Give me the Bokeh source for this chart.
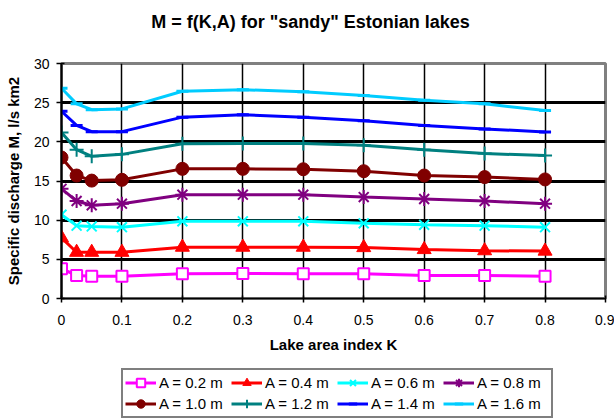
from bokeh.plotting import figure
from bokeh.layouts import column
from bokeh.models import FixedTicker, Legend, LegendItem, CustomJSTickFormatter, Label
from bokeh.embed import file_html
from bokeh.resources import INLINE

# ---- data ----
K = [0, 0.025, 0.05, 0.1, 0.2, 0.3, 0.4, 0.5, 0.6, 0.7, 0.8]

M_A02 = [3.8, 2.95, 2.85, 2.85, 3.15, 3.2, 3.15, 3.15, 2.95, 2.95, 2.85]
M_A04 = [7.75, 5.9, 5.9, 5.9, 6.55, 6.55, 6.55, 6.5, 6.25, 6.1, 6.05]
M_A06 = [10.7, 9.3, 9.2, 9.1, 9.85, 9.85, 9.85, 9.6, 9.4, 9.3, 9.1]
M_A08 = [14.0, 12.45, 11.9, 12.1, 13.25, 13.25, 13.25, 12.95, 12.7, 12.45, 12.1]
M_A10 = [18.0, 15.7, 15.05, 15.15, 16.55, 16.55, 16.5, 16.25, 15.7, 15.5, 15.2]
M_A12 = [21.2, 19.0, 18.15, 18.4, 19.75, 19.8, 19.8, 19.55, 19.0, 18.5, 18.25]
M_A14 = [23.9, 22.1, 21.3, 21.3, 23.15, 23.45, 23.15, 22.7, 22.1, 21.65, 21.25]
M_A16 = [26.85, 24.85, 24.1, 24.2, 26.45, 26.65, 26.4, 25.9, 25.3, 24.85, 24.0]

SERIES_LABELS = ["A = 0.2 m", "A = 0.4 m", "A = 0.6 m", "A = 0.8 m",
                 "A = 1.0 m", "A = 1.2 m", "A = 1.4 m", "A = 1.6 m"]

X_TICKS = [0.0, 0.1, 0.2, 0.3, 0.4, 0.5, 0.6, 0.7, 0.8, 0.9]
X_TICK_LABELS = ["0", "0.1", "0.2", "0.3", "0.4", "0.5", "0.6", "0.7", "0.8", "0.9"]
Y_TICKS = [0, 5, 10, 15, 20, 25, 30]

TITLE = 'M = f(K,A) for "sandy" Estonian lakes'
X_LABEL = "Lake area index K"
Y_LABEL = "Specific discharge M, l/s km2"

# ---- styles ----
series = [M_A02, M_A04, M_A06, M_A08, M_A10, M_A12, M_A14, M_A16]
colors = ["#FF00FF", "#FF0000", "#00FFFF", "#800080",
          "#800000", "#008080", "#0000FF", "#00CCFF"]
markers = ["square", "triangle", "x", "asterisk", "circle", "cross", "dash", "dash"]
msizes = [11, 14, 14, 14, 13, 14, 12, 12]
mfill = ["white", "#FF0000", None, None, "#800000", None, "#0000FF", "#00CCFF"]
mlw = [2, 1, 2, 2, 1, 2, 3, 3]

FONT = "Liberation Sans"
TITLE_H = 50
LEGEND_H = 60
W, H = 614, 418
FRAME_LEFT = 61  # the column layout aligns the strips' frames with the chart's frame


def strip(height, xr=(0, 1), yr=(0, 1)):
    f = figure(width=W, height=height, x_range=xr, y_range=yr,
               x_axis_type=None, y_axis_type=None,
               output_backend="svg", toolbar_location=None,
               min_border_left=0, min_border_right=0, min_border_top=0,
               min_border_bottom=0, background_fill_color="white",
               border_fill_color="white", outline_line_color=None)
    f.grid.visible = False
    return f


# ---- title strip ----
pt = strip(TITLE_H)
pt.add_layout(Label(x=310 - FRAME_LEFT, y=TITLE_H - 21, x_units="screen", y_units="screen",
                    text=TITLE, text_align="center", text_baseline="middle",
                    text_font=FONT, text_font_size="18px",
                    text_font_style="bold", text_color="black"))

# ---- main chart ----
p = figure(width=W, height=H - TITLE_H - LEGEND_H, x_range=(0, 0.9), y_range=(0, 30),
           output_backend="svg", toolbar_location=None,
           min_border_left=FRAME_LEFT, min_border_right=9, min_border_top=63 - TITLE_H,
           min_border_bottom=120 - LEGEND_H, background_fill_color="white",
           border_fill_color="white")

p.outline_line_color = "#808080"
p.outline_line_width = 3

p.xaxis.ticker = FixedTicker(ticks=X_TICKS)
p.yaxis.ticker = FixedTicker(ticks=Y_TICKS)
p.xaxis.formatter = CustomJSTickFormatter(
    args=dict(tick_values=X_TICKS, tick_labels=X_TICK_LABELS),
    code="""
    let best = 0, d = 1e9;
    for (let i = 0; i < tick_values.length; i++) {
        const e = Math.abs(tick_values[i] - tick);
        if (e < d) { d = e; best = i; }
    }
    return tick_labels[best];
""")
for ax in (p.xaxis, p.yaxis):
    ax.axis_line_color = "black"
    ax.axis_line_width = 2
    ax.major_tick_line_color = "black"
    ax.major_tick_line_width = 1.5
    ax.minor_tick_line_color = None
    ax.major_label_text_font = FONT
    ax.major_label_text_font_size = "14px"
    ax.major_label_text_color = "black"
    ax.axis_label_text_font = FONT
    ax.axis_label_text_font_size = "15px"
    ax.axis_label_text_font_style = "bold"
    ax.axis_label_text_color = "black"

p.xaxis.axis_line_width = 1.5
p.xaxis.major_tick_in = 3
p.xaxis.major_tick_out = 4
p.xaxis.major_label_standoff = 12
p.xaxis.axis_label = X_LABEL
p.xaxis.axis_label_standoff = 8

p.yaxis.major_tick_in = 3
p.yaxis.major_tick_out = 5
p.yaxis.major_label_standoff = 7
p.yaxis.axis_label = Y_LABEL
p.yaxis.axis_label_standoff = 9

p.xgrid.ticker = FixedTicker(ticks=X_TICKS[1:-1])
p.xgrid.grid_line_color = "black"
p.xgrid.grid_line_width = 1.5
p.ygrid.ticker = FixedTicker(ticks=Y_TICKS[1:-1])
p.ygrid.grid_line_color = "black"
p.ygrid.grid_line_width = 3

# ---- legend strip: same series drawn off-range so only legend glyphs show ----
pl = strip(LEGEND_H, xr=(100, 101), yr=(100, 101))

items = []
for vals, lab, col, mk, ms, mf, lw in zip(series, SERIES_LABELS, colors, markers,
                                          msizes, mfill, mlw):
    p.line(K, vals, line_color=col, line_width=3)
    p.scatter(K, vals, marker=mk, size=ms, line_color=col,
              fill_color=mf, line_width=lw)
    ln = pl.line(K, vals, line_color=col, line_width=3)
    sc = pl.scatter(K, vals, marker=mk, size=ms, line_color=col,
                    fill_color=mf, line_width=lw)
    items.append(LegendItem(label=lab, renderers=[ln, sc]))

# Bokeh fills legend columns first: reorder so that rows read 0.2..0.8 / 1.0..1.6
order = [0, 4, 1, 5, 2, 6, 3, 7]
legend = Legend(items=[items[i] for i in order], ncols=4,
                location=(121 - FRAME_LEFT, 0),
                label_text_font=FONT, label_text_font_size="15px",
                label_text_color="black",
                glyph_width=31, glyph_height=21, label_height=21, label_width=72,
                label_standoff=3, spacing=0, padding=2, margin=0,
                border_line_color="black", border_line_width=2,
                background_fill_color="white", background_fill_alpha=1)
pl.add_layout(legend)

layout = column(pt, p, pl, spacing=0)
open("out.html", "w").write(file_html(layout, INLINE))
